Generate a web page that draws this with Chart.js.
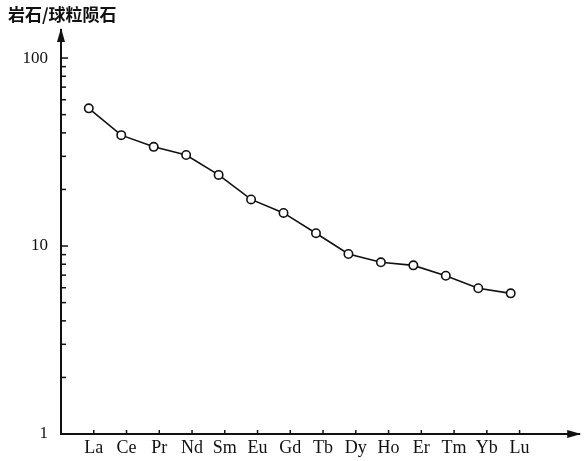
<!DOCTYPE html>
<html>
<head>
<meta charset="utf-8">
<script src="https://cdn.jsdelivr.net/npm/chart.js@4/dist/chart.umd.min.js"></script>
<style>
  html, body { margin: 0; padding: 0; background: #fff; }
  #wrap { width: 585px; height: 461px; position: relative; }
</style>
</head>
<body>
<div id="wrap"><canvas id="c"></canvas></div>
<script>
// ---------- Data ----------
const elements = ['La', 'Ce', 'Pr', 'Nd', 'Sm', 'Eu', 'Gd', 'Tb', 'Dy', 'Ho', 'Er', 'Tm', 'Yb', 'Lu'];
const ratio    = [54.0, 38.9, 33.7, 30.5, 23.9, 17.7, 15.0, 11.7, 9.07, 8.19, 7.89, 6.95, 5.96, 5.60];
const yTicks   = [1, 2, 3, 4, 5, 6, 7, 8, 9, 10, 20, 30, 40, 50, 60, 70, 80, 90, 100];
const yLabels  = [1, 10, 100];
const yTitle   = '岩石/球粒陨石';

const SERIF = '"Liberation Serif", "DejaVu Serif", serif';

// ---------- Axis decorations (inside ticks, arrows, title) ----------
const axisDeco = {
  id: 'axisDeco',
  afterDraw (chart) {
    const { ctx, chartArea: a } = chart;
    const y = chart.scales.y, xl = chart.scales.xl;
    ctx.save();
    ctx.strokeStyle = '#111';
    ctx.lineWidth = 1.5;
    // y ticks pointing inward
    y.ticks.forEach(t => {
      const py = y.getPixelForValue(t.value);
      const len = yLabels.includes(t.value) ? 7 : 5;
      ctx.beginPath(); ctx.moveTo(a.left, py); ctx.lineTo(a.left + len, py); ctx.stroke();
    });
    // x ticks pointing up
    xl.ticks.forEach(t => {
      const px = xl.getPixelForValue(t.value);
      ctx.beginPath(); ctx.moveTo(px, a.bottom); ctx.lineTo(px, a.bottom - 4); ctx.stroke();
    });
    // arrows
    ctx.fillStyle = '#111';
    ctx.beginPath();
    ctx.moveTo(a.left, a.top - 2); ctx.lineTo(a.left - 4, a.top + 12); ctx.lineTo(a.left + 4, a.top + 12);
    ctx.closePath(); ctx.fill();
    ctx.beginPath();
    ctx.moveTo(a.right + 2, a.bottom); ctx.lineTo(a.right - 12, a.bottom - 4); ctx.lineTo(a.right - 12, a.bottom + 4);
    ctx.closePath(); ctx.fill();
    // y title
    ctx.font = 'bold 17px "Noto Sans CJK SC"';
    ctx.textBaseline = 'middle';
    ctx.textAlign = 'left';
    ctx.fillText(yTitle, 8, 15);
    ctx.restore();
  }
};

new Chart(document.getElementById('c'), {
  type: 'line',
  data: {
    datasets: [{
      data: ratio.map((v, i) => ({ x: i, y: v })),
      borderColor: '#111',
      borderWidth: 1.6,
      pointRadius: 4.2,
      pointBorderWidth: 1.6,
      pointBackgroundColor: '#fff',
      pointBorderColor: '#111',
      tension: 0,
      xAxisID: 'x',
      yAxisID: 'y'
    }]
  },
  options: {
    responsive: true,
    maintainAspectRatio: false,
    animation: false,
    layout: { padding: { top: 30, right: 2, left: 0, bottom: 0 } },
    plugins: { legend: { display: false }, tooltip: { enabled: false } },
    scales: {
      x: { type: 'linear', display: false, min: -0.856, max: 15.11 },
      xl: {
        type: 'linear', position: 'bottom', min: -1, max: 14.82,
        afterBuildTicks: s => { s.ticks = elements.map((_, i) => ({ value: i })); },
        afterFit: s => { s.height = 27; },
        grid: { display: false, drawTicks: false },
        border: { display: true, color: '#111', width: 2 },
        ticks: {
          padding: 3, color: '#111', autoSkip: false, maxRotation: 0,
          font: { family: SERIF, size: 18 },
          callback: v => elements[v]
        }
      },
      y: {
        type: 'logarithmic', min: 1, max: 141,
        afterBuildTicks: s => { s.ticks = yTicks.map(v => ({ value: v })); },
        afterFit: s => { s.width = 61; },
        grid: { display: false, drawTicks: false },
        border: { display: true, color: '#111', width: 2 },
        ticks: {
          padding: 13, color: '#111', autoSkip: false,
          font: { family: SERIF, size: 17 },
          callback: v => yLabels.includes(v) ? String(v) : ''
        }
      }
    }
  },
  plugins: [axisDeco]
});
</script>
</body>
</html>
